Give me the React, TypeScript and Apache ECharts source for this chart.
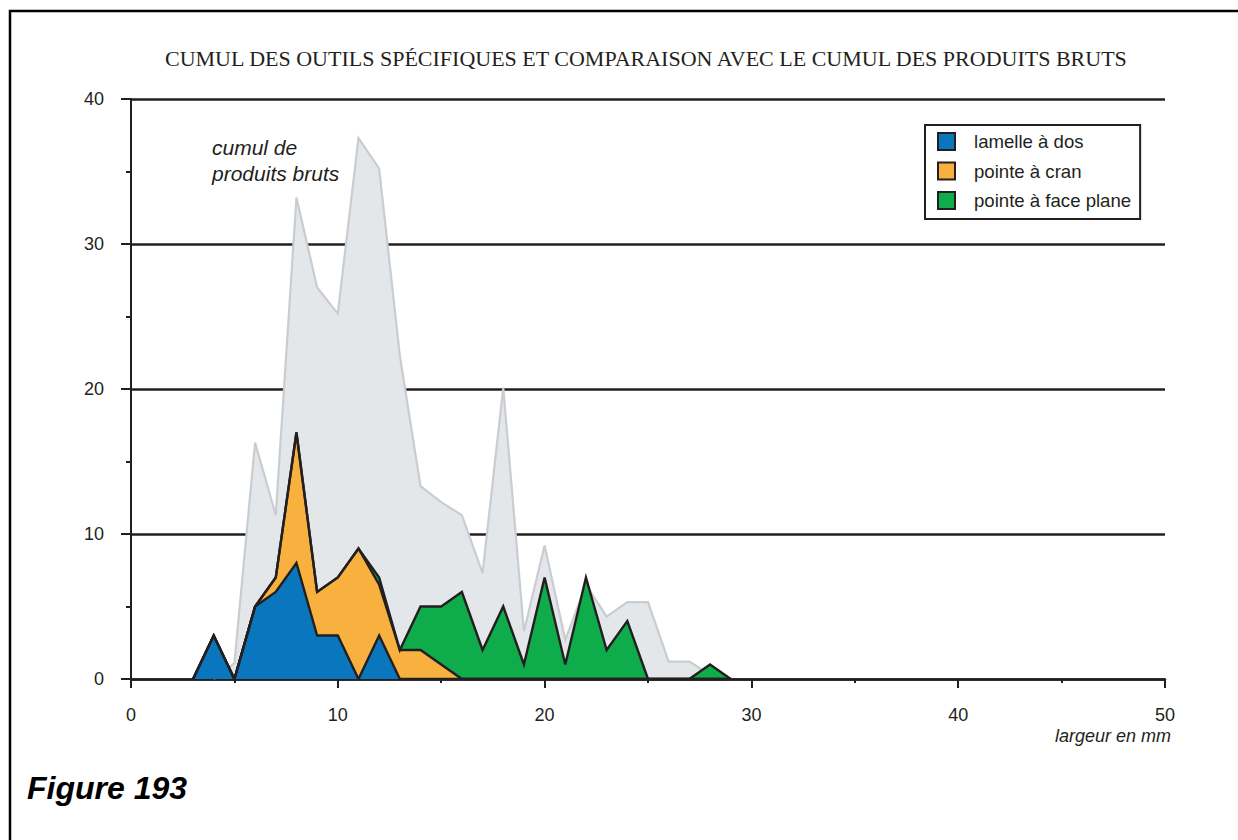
import React, { useEffect, useRef } from "react";
import * as echarts from "echarts";

const TITLE = "CUMUL DES OUTILS SPÉCIFIQUES ET COMPARAISON AVEC LE CUMUL DES PRODUITS BRUTS";
const FIGURE_LABEL = "Figure 193";
const X_NAME = "largeur en mm";
const BRUTS_LABEL = "cumul de\nproduits bruts";

const SERIES_NAMES = ["lamelle à dos", "pointe à cran", "pointe à face plane"];

// widths (mm) for the stacked tool series
const TOOL_X = [3, 4, 5, 6, 7, 8, 9, 10, 11, 12, 13, 14, 15, 16, 17, 18, 19, 20, 21, 22, 23, 24, 25, 26, 27, 28, 29];
const LAMELLE_A_DOS = [0, 3, 0, 5, 6, 8, 3, 3, 0, 3, 0, 0, 0, 0, 0, 0, 0, 0, 0, 0, 0, 0, 0, 0, 0, 0, 0];
const POINTE_A_CRAN = [0, 0, 0, 0, 1, 9, 3, 4, 9, 3.5, 2, 2, 1, 0, 0, 0, 0, 0, 0, 0, 0, 0, 0, 0, 0, 0, 0];
const POINTE_FACE_PLANE = [0, 0, 0, 0, 0, 0, 0, 0, 0, 0.5, 0, 3, 4, 6, 2, 5, 1, 7, 1, 7, 2, 4, 0, 0, 0, 1, 0];

// cumul de produits bruts
const BRUTS_X = [4, 5, 6, 7, 8, 9, 10, 11, 12, 13, 14, 15, 16, 17, 18, 19, 20, 21, 22, 23, 24, 25, 26, 27, 28, 29];
const BRUTS = [0, 1.1, 16.3, 11.3, 33.2, 27, 25.2, 37.3, 35.2, 22.3, 13.3, 12.2, 11.3, 7.3, 20.1, 3.3, 9.2, 2.7, 6.5, 4.3, 5.3, 5.3, 1.2, 1.2, 0.3, 0];

const X_MIN = 0, X_MAX = 50, X_STEP = 10;
const Y_MIN = 0, Y_MAX = 40, Y_STEP = 10;

const INK = "#231f20";
const COLORS = ["#0a76be", "#f8b13f", "#0fac4b"];
const GRAY_FILL = "#e4e7ea";
const GRAY_LINE = "#c9cdd1";
const SANS = "Liberation Sans";

export default function App() {
  const ref = useRef<HTMLDivElement>(null);
  useEffect(() => {
    document.body.style.margin = "0";
    if (!ref.current) return;
    const chart = echarts.init(ref.current, null, { renderer: "svg" });
    const toolData = [LAMELLE_A_DOS, POINTE_A_CRAN, POINTE_FACE_PLANE];
    // data stored as [count, width] so that the stack is computed on the count (y) dimension
    const pairs = (vals: number[]) => TOOL_X.map((x, i) => [vals[i], x]);
    const areaSeries = toolData.map((vals, k) => ({
      name: SERIES_NAMES[k],
      type: "line",
      stack: "tools",
      encode: { x: 1, y: 0 },
      data: pairs(vals),
      symbol: "none",
      silent: true,
      z: 3,
      itemStyle: { color: COLORS[k] },
      lineStyle: { opacity: 0, width: 0 },
      areaStyle: { color: COLORS[k], opacity: 1 },
    }));
    const outlineSeries = toolData.map((vals, k) => ({
      name: SERIES_NAMES[k] + " contour",
      type: "line",
      stack: "outline",
      encode: { x: 1, y: 0 },
      data: pairs(vals),
      symbol: "none",
      silent: true,
      z: 4,
      itemStyle: { color: INK },
      lineStyle: { color: INK, width: 2.4, join: "miter" },
    }));
    chart.setOption({
      animation: false,
      backgroundColor: "#ffffff",
      title: {
        text: TITLE,
        left: 165,
        top: 47,
        padding: 0,
        textStyle: { fontFamily: "Liberation Serif", fontSize: 22, fontWeight: "normal", color: INK },
      },
      grid: { left: 131, right: 73, top: 99, bottom: 161, containLabel: false },
      legend: {
        data: SERIES_NAMES,
        orient: "vertical",
        left: 925,
        top: 125,
        icon: "rect",
        itemWidth: 17,
        itemHeight: 17,
        itemGap: 10.5,
        selectedMode: false,
        padding: [7, 9, 9, 12],
        borderColor: INK,
        borderWidth: 2,
        backgroundColor: "#ffffff",
        itemStyle: { borderColor: INK, borderWidth: 2 },
        textStyle: { fontFamily: SANS, fontSize: 18.6, color: INK, padding: [0, 0, 0, 14] },
      },
      xAxis: {
        type: "value",
        min: X_MIN,
        max: X_MAX,
        interval: X_STEP,
        axisLine: { show: true, lineStyle: { color: INK, width: 2.5 } },
        axisTick: { show: true, length: 9, lineStyle: { color: INK, width: 2 } },
        minorTick: { show: true, splitNumber: 2, length: 4, lineStyle: { color: INK, width: 2 } },
        splitLine: { show: false },
        axisLabel: { margin: 27, fontFamily: SANS, fontSize: 18, color: INK },
      },
      yAxis: {
        type: "value",
        min: Y_MIN,
        max: Y_MAX,
        interval: Y_STEP,
        axisLine: { show: true, lineStyle: { color: INK, width: 2 } },
        axisTick: { show: true, length: 10, lineStyle: { color: INK, width: 2 } },
        minorTick: { show: true, splitNumber: 2, length: 5, lineStyle: { color: INK, width: 2 } },
        splitLine: { show: true, lineStyle: { color: INK, width: 2.5 } },
        axisLabel: { margin: 27, fontFamily: SANS, fontSize: 18, color: INK, padding: [8, 0, 0, 0] },
      },
      graphic: [
        {
          type: "rect",
          shape: { x: 10, y: 11, width: 1260, height: 900 },
          style: { fill: "none", stroke: "#000", lineWidth: 2.5 },
          silent: true,
        },
        {
          type: "text",
          left: 212,
          top: 134,
          style: { text: BRUTS_LABEL, font: `italic 21px "${SANS}"`, lineHeight: 26, fill: INK },
          silent: true,
        },
        {
          type: "text",
          right: 1238 - 1171,
          top: 727,
          style: { text: X_NAME, font: `italic 18px "${SANS}"`, fill: INK },
          silent: true,
        },
        {
          type: "text",
          left: 27,
          top: 772,
          style: { text: FIGURE_LABEL, font: `italic bold 32px "${SANS}"`, fill: "#000" },
          silent: true,
        },
      ],
      series: [
        {
          name: "cumul de produits bruts",
          type: "line",
          data: BRUTS_X.map((x, i) => [x, BRUTS[i]]),
          symbol: "none",
          silent: true,
          z: 2,
          lineStyle: { color: GRAY_LINE, width: 2.2, join: "miter" },
          areaStyle: { color: GRAY_FILL, opacity: 1 },
        },
        ...areaSeries,
        ...outlineSeries,
      ],
    });
    return () => chart.dispose();
  }, []);
  return <div ref={ref} style={{ width: 1238, height: 840 }} />;
}
